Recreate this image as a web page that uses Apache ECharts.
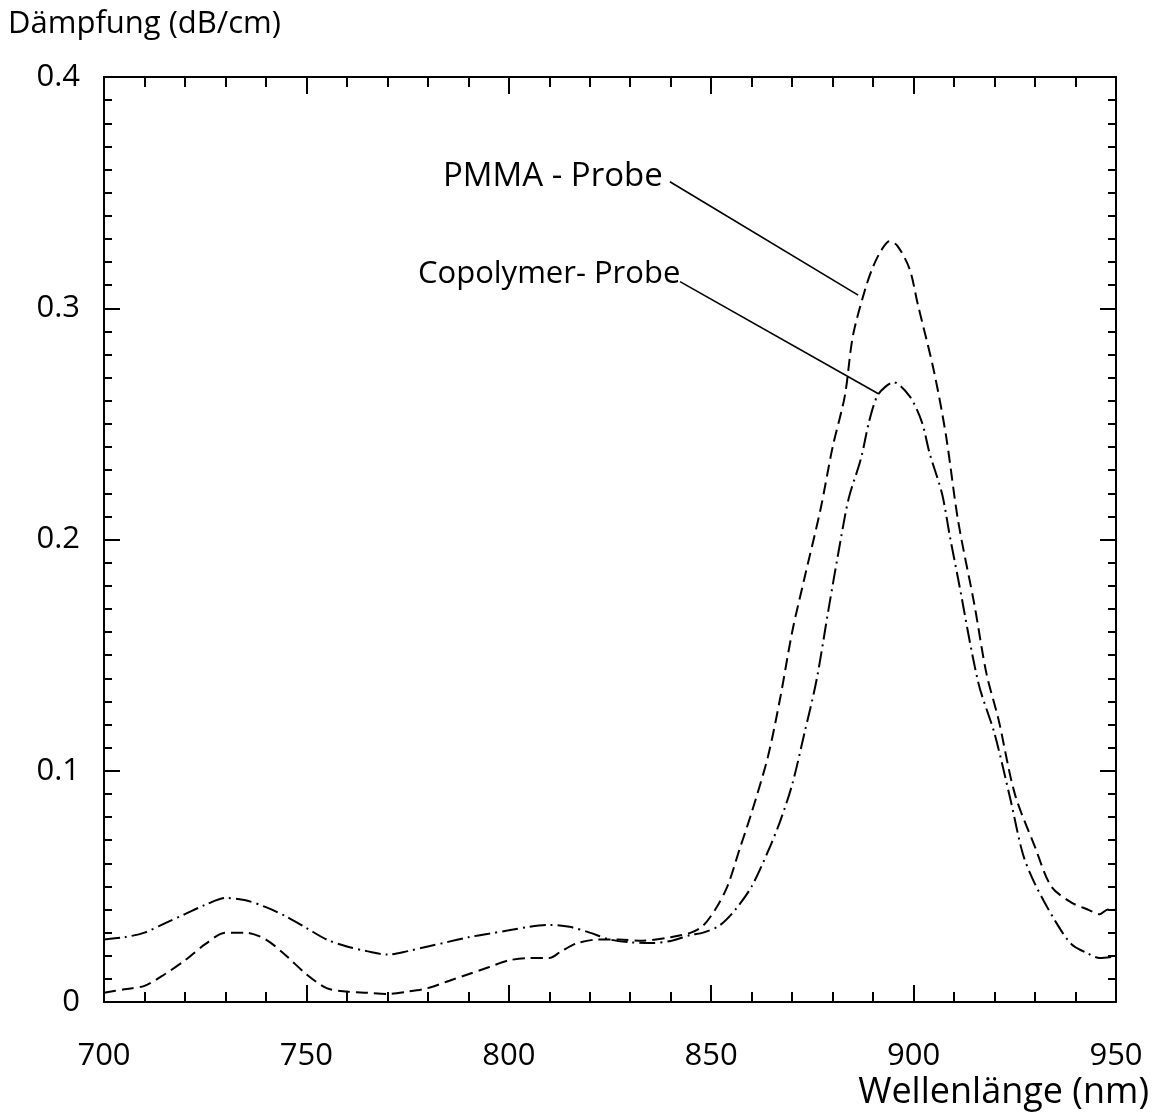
<!DOCTYPE html>
<html>
<head>
<meta charset="utf-8">
<script src="https://cdn.jsdelivr.net/npm/echarts@6/dist/echarts.min.js"></script>
<style>
  html, body { margin: 0; padding: 0; background: #fff; }
  #chart { width: 1157px; height: 1117px; }
</style>
</head>
<body>
<div id="chart"></div>
<script>
// PMMA - Probe (gestrichelt)
var pmmaNm = [700, 705, 710, 715, 720, 725, 730, 735, 740, 745, 750, 755, 760, 765, 770, 775, 780, 785, 790, 795,
  800, 805, 810, 813, 817, 822, 827, 833, 840, 845, 848, 851, 854, 857, 860, 864, 867, 870, 873, 877,
  880, 883, 885, 888, 890, 892, 894, 896, 899, 901, 905, 908, 911, 915, 918, 921, 925, 930, 934, 939,
  943, 946, 948, 950];
var pmmaVal = [0.004, 0.0055, 0.007, 0.012, 0.018, 0.025, 0.030, 0.030, 0.027, 0.020, 0.012, 0.006, 0.0045, 0.004, 0.0035, 0.0045, 0.006, 0.009, 0.012, 0.015,
  0.018, 0.019, 0.019, 0.022, 0.0255, 0.027, 0.027, 0.0265, 0.028, 0.030, 0.033, 0.040, 0.050, 0.066, 0.082, 0.106, 0.131, 0.160, 0.183, 0.213,
  0.240, 0.262, 0.288, 0.308, 0.318, 0.325, 0.329, 0.327, 0.317, 0.302, 0.273, 0.245, 0.208, 0.172, 0.142, 0.122, 0.090, 0.067, 0.050, 0.043,
  0.040, 0.038, 0.040, 0.040];

// Copolymer- Probe (strichpunktiert)
var copoNm = [700, 705, 710, 715, 720, 725, 730, 735, 740, 745, 750, 755, 760, 765, 770, 775, 780, 785, 790, 795,
  800, 805, 810, 815, 820, 825, 830, 835, 840, 845, 848, 852, 856, 860, 864, 867, 870, 873, 876, 879,
  882, 884, 887, 889, 891, 893, 895, 899, 902, 904, 907, 909, 911, 916, 920, 924, 927, 930, 935, 939,
  943, 946, 949];
var copoVal = [0.027, 0.028, 0.030, 0.034, 0.038, 0.042, 0.045, 0.044, 0.041, 0.037, 0.032, 0.027, 0.024, 0.022, 0.0205, 0.022, 0.024, 0.026, 0.028, 0.0295,
  0.031, 0.0325, 0.0333, 0.0325, 0.030, 0.027, 0.0258, 0.0255, 0.0264, 0.029, 0.030, 0.033, 0.040, 0.050, 0.065, 0.078, 0.094, 0.116, 0.139, 0.170,
  0.200, 0.218, 0.235, 0.251, 0.262, 0.266, 0.268, 0.262, 0.251, 0.237, 0.220, 0.201, 0.183, 0.138, 0.116, 0.087, 0.064, 0.051, 0.035, 0.025,
  0.021, 0.019, 0.0195];

// Hinweislinien zu den Beschriftungen
var pmmaLeaderNm = [839.8, 886.3];
var pmmaLeaderVal = [0.3547, 0.3057];
var copoLeaderNm = [842.3, 891.3];
var copoLeaderVal = [0.3115, 0.263];

var xTicks = [700, 750, 800, 850, 900, 950];
var yTicks = [0, 0.1, 0.2, 0.3, 0.4];

function pairs(xs, ys) {
  var out = [];
  for (var i = 0; i < xs.length; i++) {
    out.push([xs[i], ys[i]]);
  }
  return out;
}

var font = '"Open Sans", "Noto Sans", sans-serif';

var chart = echarts.init(document.getElementById("chart"));

var baseX = {
  type: 'value',
  min: xTicks[0],
  max: xTicks[xTicks.length - 1],
  interval: 50,
  splitLine: { show: false },
  axisLine: { show: true, onZero: false, lineStyle: { color: '#000', width: 2 } },
  axisTick: { show: true, inside: true, length: 17, lineStyle: { color: '#000', width: 2 } },
  minorTick: { show: true, splitNumber: 5, length: 10, lineStyle: { color: '#000', width: 2 } },
  minorSplitLine: { show: false }
};
var baseY = {
  type: 'value',
  min: yTicks[0],
  max: yTicks[yTicks.length - 1],
  interval: 0.1,
  splitLine: { show: false },
  axisLine: { show: true, onZero: false, lineStyle: { color: '#000', width: 2 } },
  axisTick: { show: true, inside: true, length: 16, lineStyle: { color: '#000', width: 2 } },
  minorTick: { show: true, splitNumber: 10, length: 8, lineStyle: { color: '#000', width: 2 } },
  minorSplitLine: { show: false }
};

var option = {
  backgroundColor: '#fff',
  animation: false,
  grid: { left: 104, right: 41, top: 77, bottom: 115, containLabel: false },
  xAxis: [
    Object.assign({}, baseX, {
      position: 'bottom',
      axisLabel: { show: true, margin: 39, color: '#000', fontSize: 31, fontFamily: font }
    }),
    Object.assign({}, baseX, { position: 'top', axisLabel: { show: false } })
  ],
  yAxis: [
    Object.assign({}, baseY, {
      position: 'left',
      axisLabel: { show: true, margin: 24, color: '#000', fontSize: 31, fontFamily: font }
    }),
    Object.assign({}, baseY, { position: 'right', axisLabel: { show: false } })
  ],
  graphic: [
    { type: 'text', left: 8, top: 9, style: { text: 'Dämpfung (dB/cm)', fill: '#000', font: '31px ' + font } },
    { type: 'text', right: 8, top: 1075, style: { text: 'Wellenlänge (nm)', fill: '#000', font: '36px ' + font } },
    { type: 'text', left: 443, top: 160, style: { text: 'PMMA - Probe', fill: '#000', font: '33px ' + font } },
    { type: 'text', left: 418, top: 259, style: { text: 'Copolymer- Probe', fill: '#000', font: '31px ' + font } }
  ],
  series: [
    {
      name: 'PMMA - Probe',
      type: 'line',
      data: pairs(pmmaNm, pmmaVal),
      smooth: 0.3,
      showSymbol: false,
      lineStyle: { color: '#000', width: 2, type: [12, 6] }
    },
    {
      name: 'Copolymer- Probe',
      type: 'line',
      data: pairs(copoNm, copoVal),
      smooth: 0.3,
      showSymbol: false,
      lineStyle: { color: '#000', width: 2, type: [16, 5, 2, 5] }
    },
    {
      type: 'line',
      data: pairs(pmmaLeaderNm, pmmaLeaderVal),
      showSymbol: false,
      lineStyle: { color: '#000', width: 1.6 }
    },
    {
      type: 'line',
      data: pairs(copoLeaderNm, copoLeaderVal),
      showSymbol: false,
      lineStyle: { color: '#000', width: 1.6 }
    }
  ]
};
chart.setOption(option);
</script>
</body>
</html>
